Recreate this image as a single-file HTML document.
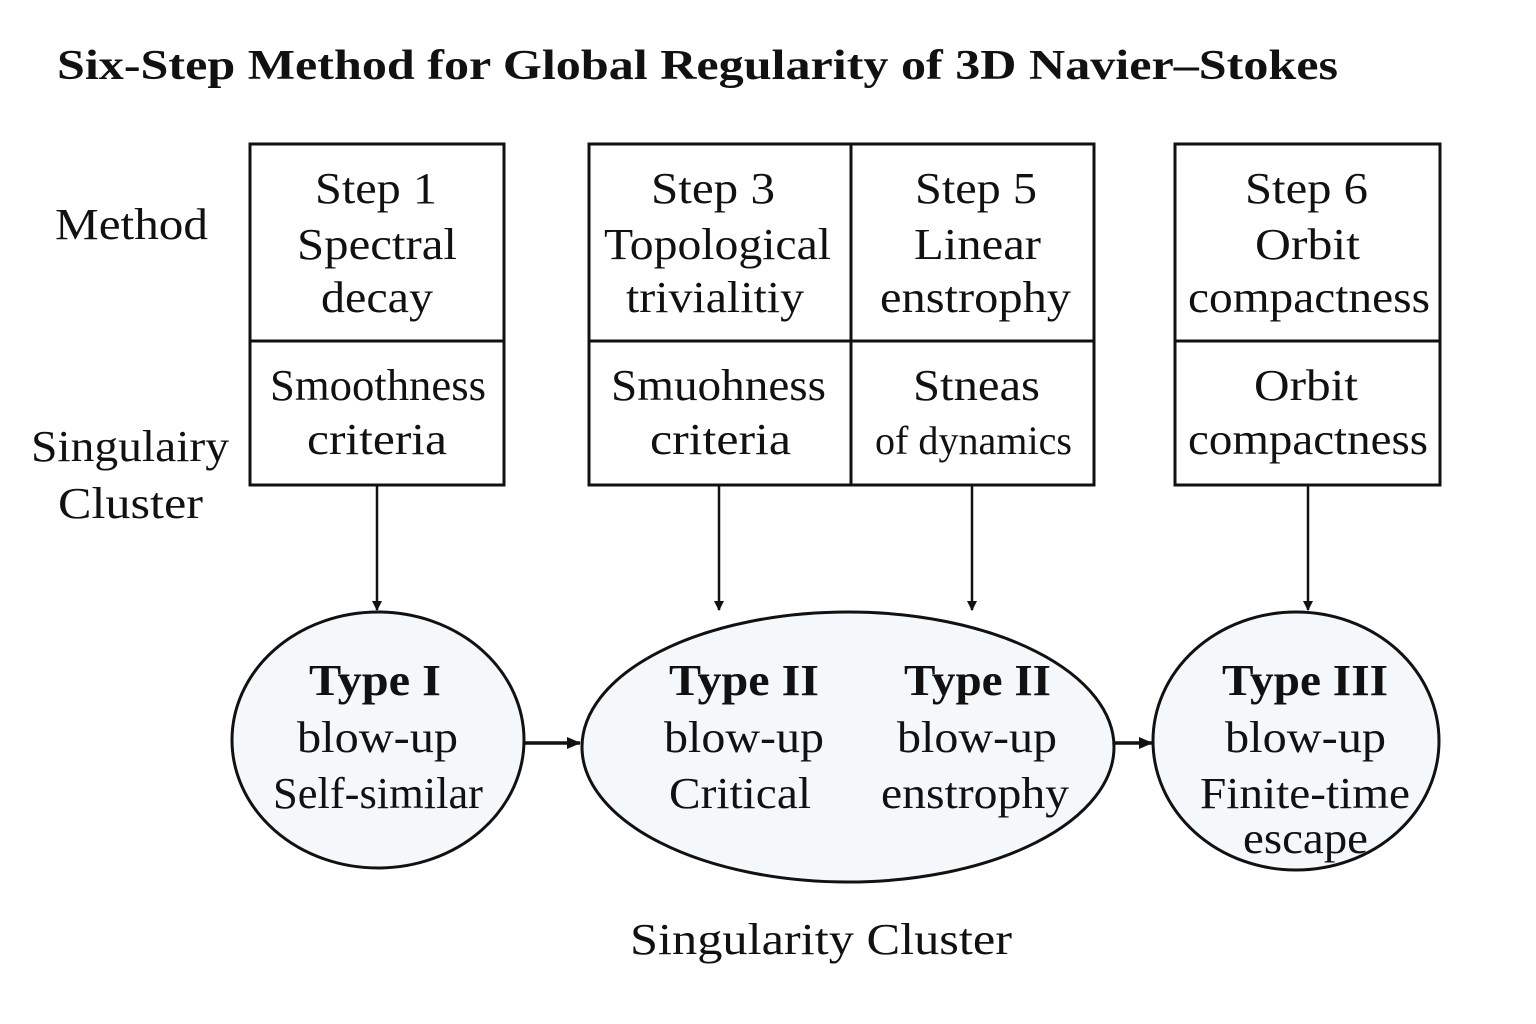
<!DOCTYPE html>
<html><head><meta charset="utf-8"><style>
html,body{margin:0;padding:0;background:#fff;}
svg{display:block;}
text{font-family:"Liberation Serif",serif;fill:#111;}
</style></head><body>
<svg width="1536" height="1024" viewBox="0 0 1536 1024" xmlns="http://www.w3.org/2000/svg">
<defs><marker id="a" markerWidth="10" markerHeight="10" refX="9" refY="5" orient="auto" markerUnits="userSpaceOnUse"><path d="M0,0 L10,5 L0,10 Z" fill="#111"/></marker>
<marker id="b" markerWidth="14" markerHeight="12" refX="13" refY="6" orient="auto" markerUnits="userSpaceOnUse"><path d="M0,0 L14,6 L0,12 Z" fill="#111"/></marker></defs>
<text x="57" y="79" font-size="42" font-weight="bold" textLength="1281" lengthAdjust="spacingAndGlyphs">Six-Step Method for Global Regularity of 3D Navier–Stokes</text>
<g font-size="44" lengthAdjust="spacingAndGlyphs">
<text x="55" y="239" textLength="153" lengthAdjust="spacingAndGlyphs">Method</text>
<text x="31" y="461" textLength="198" lengthAdjust="spacingAndGlyphs">Singulairy</text>
<text x="58" y="518" textLength="145" lengthAdjust="spacingAndGlyphs">Cluster</text>
</g>
<g fill="none" stroke="#111" stroke-width="3">
<rect x="250" y="144" width="254" height="341"/><line x1="250" y1="341" x2="504" y2="341"/>
<rect x="589" y="144" width="505" height="341"/><line x1="589" y1="341" x2="1094" y2="341"/><line x1="851" y1="144" x2="851" y2="485"/>
<rect x="1175" y="144" width="265" height="341"/><line x1="1175" y1="341" x2="1440" y2="341"/>
</g>
<g font-size="44">
<text x="315" y="203" textLength="122" lengthAdjust="spacingAndGlyphs">Step 1</text>
<text x="297" y="259" textLength="160" lengthAdjust="spacingAndGlyphs">Spectral</text>
<text x="321" y="312" textLength="112" lengthAdjust="spacingAndGlyphs">decay</text>
<text x="270" y="400" textLength="216" lengthAdjust="spacingAndGlyphs">Smoothness</text>
<text x="307" y="454" textLength="140" lengthAdjust="spacingAndGlyphs">criteria</text>
<text x="651" y="203" textLength="124" lengthAdjust="spacingAndGlyphs">Step 3</text>
<text x="604" y="259" textLength="227" lengthAdjust="spacingAndGlyphs">Topological</text>
<text x="626" y="312" textLength="178" lengthAdjust="spacingAndGlyphs">trivialitiy</text>
<text x="611" y="400" textLength="215" lengthAdjust="spacingAndGlyphs">Smuohness</text>
<text x="650" y="454" textLength="141" lengthAdjust="spacingAndGlyphs">criteria</text>
<text x="915" y="203" textLength="122" lengthAdjust="spacingAndGlyphs">Step 5</text>
<text x="914" y="259" textLength="127" lengthAdjust="spacingAndGlyphs">Linear</text>
<text x="880" y="312" textLength="191" lengthAdjust="spacingAndGlyphs">enstrophy</text>
<text x="913" y="400" textLength="127" lengthAdjust="spacingAndGlyphs">Stneas</text>
<text x="875" y="454" font-size="40" textLength="197" lengthAdjust="spacingAndGlyphs">of dynamics</text>
<text x="1245" y="203" textLength="123" lengthAdjust="spacingAndGlyphs">Step 6</text>
<text x="1255" y="259" textLength="105" lengthAdjust="spacingAndGlyphs">Orbit</text>
<text x="1188" y="312" textLength="242" lengthAdjust="spacingAndGlyphs">compactness</text>
<text x="1254" y="400" textLength="104" lengthAdjust="spacingAndGlyphs">Orbit</text>
<text x="1188" y="454" textLength="240" lengthAdjust="spacingAndGlyphs">compactness</text>
</g>
<g stroke="#111" stroke-width="2.5" fill="none">
<line x1="377" y1="485" x2="377" y2="610" marker-end="url(#a)"/>
<line x1="719" y1="485" x2="719" y2="610" marker-end="url(#a)"/>
<line x1="972" y1="485" x2="972" y2="610" marker-end="url(#a)"/>
<line x1="1308" y1="485" x2="1308" y2="610" marker-end="url(#a)"/>
<line x1="525" y1="743" x2="580" y2="743" stroke-width="3.5" marker-end="url(#b)"/>
<line x1="1115" y1="743" x2="1152" y2="743" stroke-width="3.5" marker-end="url(#b)"/>
</g>
<g fill="#f4f8fb" stroke="#111" stroke-width="3">
<ellipse cx="378" cy="740" rx="146" ry="128"/>
<ellipse cx="848" cy="747" rx="266" ry="135"/>
<ellipse cx="1296" cy="741" rx="143" ry="129"/>
</g>
<g font-size="44">
<text x="309" y="695" font-weight="bold" textLength="132" lengthAdjust="spacingAndGlyphs">Type I</text>
<text x="297" y="752" textLength="161" lengthAdjust="spacingAndGlyphs">blow-up</text>
<text x="273" y="808" textLength="210" lengthAdjust="spacingAndGlyphs">Self-similar</text>
<text x="669" y="695" font-weight="bold" textLength="150" lengthAdjust="spacingAndGlyphs">Type II</text>
<text x="664" y="752" textLength="160" lengthAdjust="spacingAndGlyphs">blow-up</text>
<text x="669" y="808" textLength="142" lengthAdjust="spacingAndGlyphs">Critical</text>
<text x="904" y="695" font-weight="bold" textLength="147" lengthAdjust="spacingAndGlyphs">Type II</text>
<text x="897" y="752" textLength="160" lengthAdjust="spacingAndGlyphs">blow-up</text>
<text x="881" y="808" textLength="188" lengthAdjust="spacingAndGlyphs">enstrophy</text>
<text x="1222" y="695" font-weight="bold" textLength="166" lengthAdjust="spacingAndGlyphs">Type III</text>
<text x="1225" y="752" textLength="161" lengthAdjust="spacingAndGlyphs">blow-up</text>
<text x="1200" y="808" textLength="210" lengthAdjust="spacingAndGlyphs">Finite-time</text>
<text x="1243" y="853" textLength="125" lengthAdjust="spacingAndGlyphs">escape</text>
<text x="630" y="954" textLength="382" lengthAdjust="spacingAndGlyphs">Singularity Cluster</text>
</g>
</svg>
</body></html>
